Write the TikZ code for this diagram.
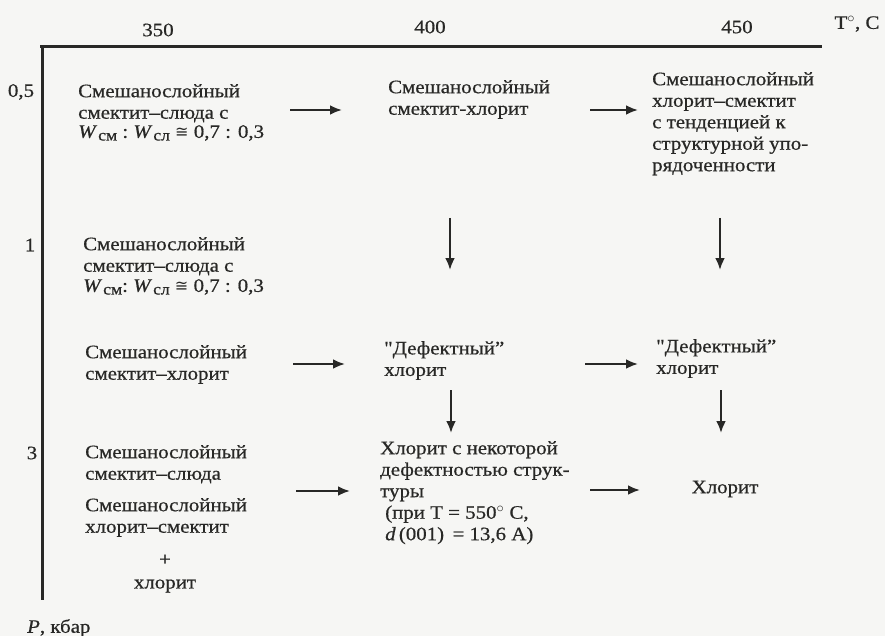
\documentclass[tikz,border=0pt]{standalone}
\usepackage{fontspec}
\setmainfont{Liberation Serif}[FakeStretch=1.1,FakeBold=0.6]
\newfontfamily\qfont{Liberation Serif}[FakeStretch=1.1,FakeBold=0.6]
\newfontfamily\symfont{DejaVu Sans}
\usetikzlibrary{arrows.meta}
\definecolor{ink}{RGB}{40,40,38}
\definecolor{paper}{RGB}{246,246,244}
\begin{document}
\begin{tikzpicture}[x=1pt,y=-1pt,
  txt/.style={anchor=north west,inner sep=0pt,align=left,text=ink,
    font=\fontsize{19}{21.5}\selectfont},
  lbl/.style={inner sep=0pt,text=ink,font=\fontsize{19}{21.5}\selectfont},
  axis/.style={draw=ink,line width=3pt},
  arr/.style={draw=ink,line width=2.8pt,-{Latex[length=12pt,width=10pt]}}]
\useasboundingbox[fill=paper] (0,0) rectangle (885,636);
\newcommand{\wsub}[1]{\raisebox{-0.3ex}{\fontsize{16}{16}\selectfont #1}}
\newcommand{\approxeq}{{\symfont\fontsize{16}{16}\selectfont ≅}}
\newcommand{\wratioA}{\textit{W}\kern1pt\wsub{см}\ :\ \textit{W}\kern1pt\wsub{сл}\ \approxeq\ 0,7 : 0,3}
\newcommand{\wratioB}{\textit{W}\kern1pt\wsub{см}:\ \textit{W}\kern1pt\wsub{сл}\ \approxeq\ 0,7 : 0,3}
\newcommand{\dq}{{\qfont"}}
% axes
\coordinate (o) at (42,47);
\coordinate (xe) at (822,47);
\coordinate (ye) at (42,600);
\draw[axis] (40,47) -- (xe);
\draw[axis] (o) -- (ye);
% axis labels
\node[lbl] (t350) at (158,30) {350};
\node[lbl] (t400) at (430,27) {400};
\node[lbl] (t450) at (737,27) {450};
\node[lbl] (tT) at (857,24) {T$^{\circ}$, C};
\node[lbl] (p05) at (21,92) {0,5};
\node[lbl] (p1) at (30,245) {1};
\node[lbl] (p3) at (32,453) {3};
\node[lbl,anchor=west] (pP) at (27,628) {\textit{P}, кбар};
% row 0.5
\node[txt] (a1) at (78,84) {Смешанослойный\\смектит–слюда с};
\node[txt,anchor=west] (a1w) at (78,133) {\wratioA};
\node[txt] (a2) at (388,80) {Смешанослойный\\смектит-хлорит};
\node[txt] (a3) at (652,72) {Смешанослойный\\хлорит–смектит\\с тенденцией к\\структурной упо-\\рядоченности};
% row 1
\node[txt] (b1) at (83,237) {Смешанослойный\\смектит–слюда с};
\node[txt,anchor=west] (b1w) at (83,287) {\wratioB};
% row 2
\node[txt] (c1) at (85,345) {Смешанослойный\\смектит–хлорит};
\node[txt] (c2) at (384,341) {\dq Дефектный”\\хлорит};
\node[txt] (c3) at (656,339) {\dq Дефектный”\\хлорит};
% row 3
\node[txt] (d1a) at (85,445) {Смешанослойный\\смектит–слюда};
\node[txt] (d1b) at (85,498) {Смешанослойный\\хлорит–смектит};
\node[lbl] (d1p) at (165,560) {+};
\node[lbl] (d1c) at (165,586) {хлорит};
\node[txt] (d2) at (380,441) {Хлорит с некоторой\\дефектностью струк-\\туры\\\hspace*{5pt}(при T = 550$^{\circ}$ C,\\\hspace*{5pt}\textit{d}\,(001) \,= 13,6 A)};
\node[lbl] (d3) at (725,489) {Хлорит};
% arrow end points
\coordinate (h1s) at (290,110); \coordinate (h1e) at (342,110);
\coordinate (h2s) at (590,110); \coordinate (h2e) at (638,110);
\coordinate (v1s) at (450,218); \coordinate (v1e) at (450,270);
\coordinate (v2s) at (720,218); \coordinate (v2e) at (720,270);
\coordinate (h3s) at (293,364); \coordinate (h3e) at (345,364);
\coordinate (h4s) at (585,364); \coordinate (h4e) at (638,364);
\coordinate (v3s) at (451,390); \coordinate (v3e) at (451,433);
\coordinate (v4s) at (721,390); \coordinate (v4e) at (721,433);
\coordinate (h5s) at (296,491); \coordinate (h5e) at (350,491);
\coordinate (h6s) at (590,490); \coordinate (h6e) at (640,490);
\draw[arr] (h1s) -- (h1e);
\draw[arr] (h2s) -- (h2e);
\draw[arr] (v1s) -- (v1e);
\draw[arr] (v2s) -- (v2e);
\draw[arr] (h3s) -- (h3e);
\draw[arr] (h4s) -- (h4e);
\draw[arr] (v3s) -- (v3e);
\draw[arr] (v4s) -- (v4e);
\draw[arr] (h5s) -- (h5e);
\draw[arr] (h6s) -- (h6e);
\end{tikzpicture}
\end{document}
